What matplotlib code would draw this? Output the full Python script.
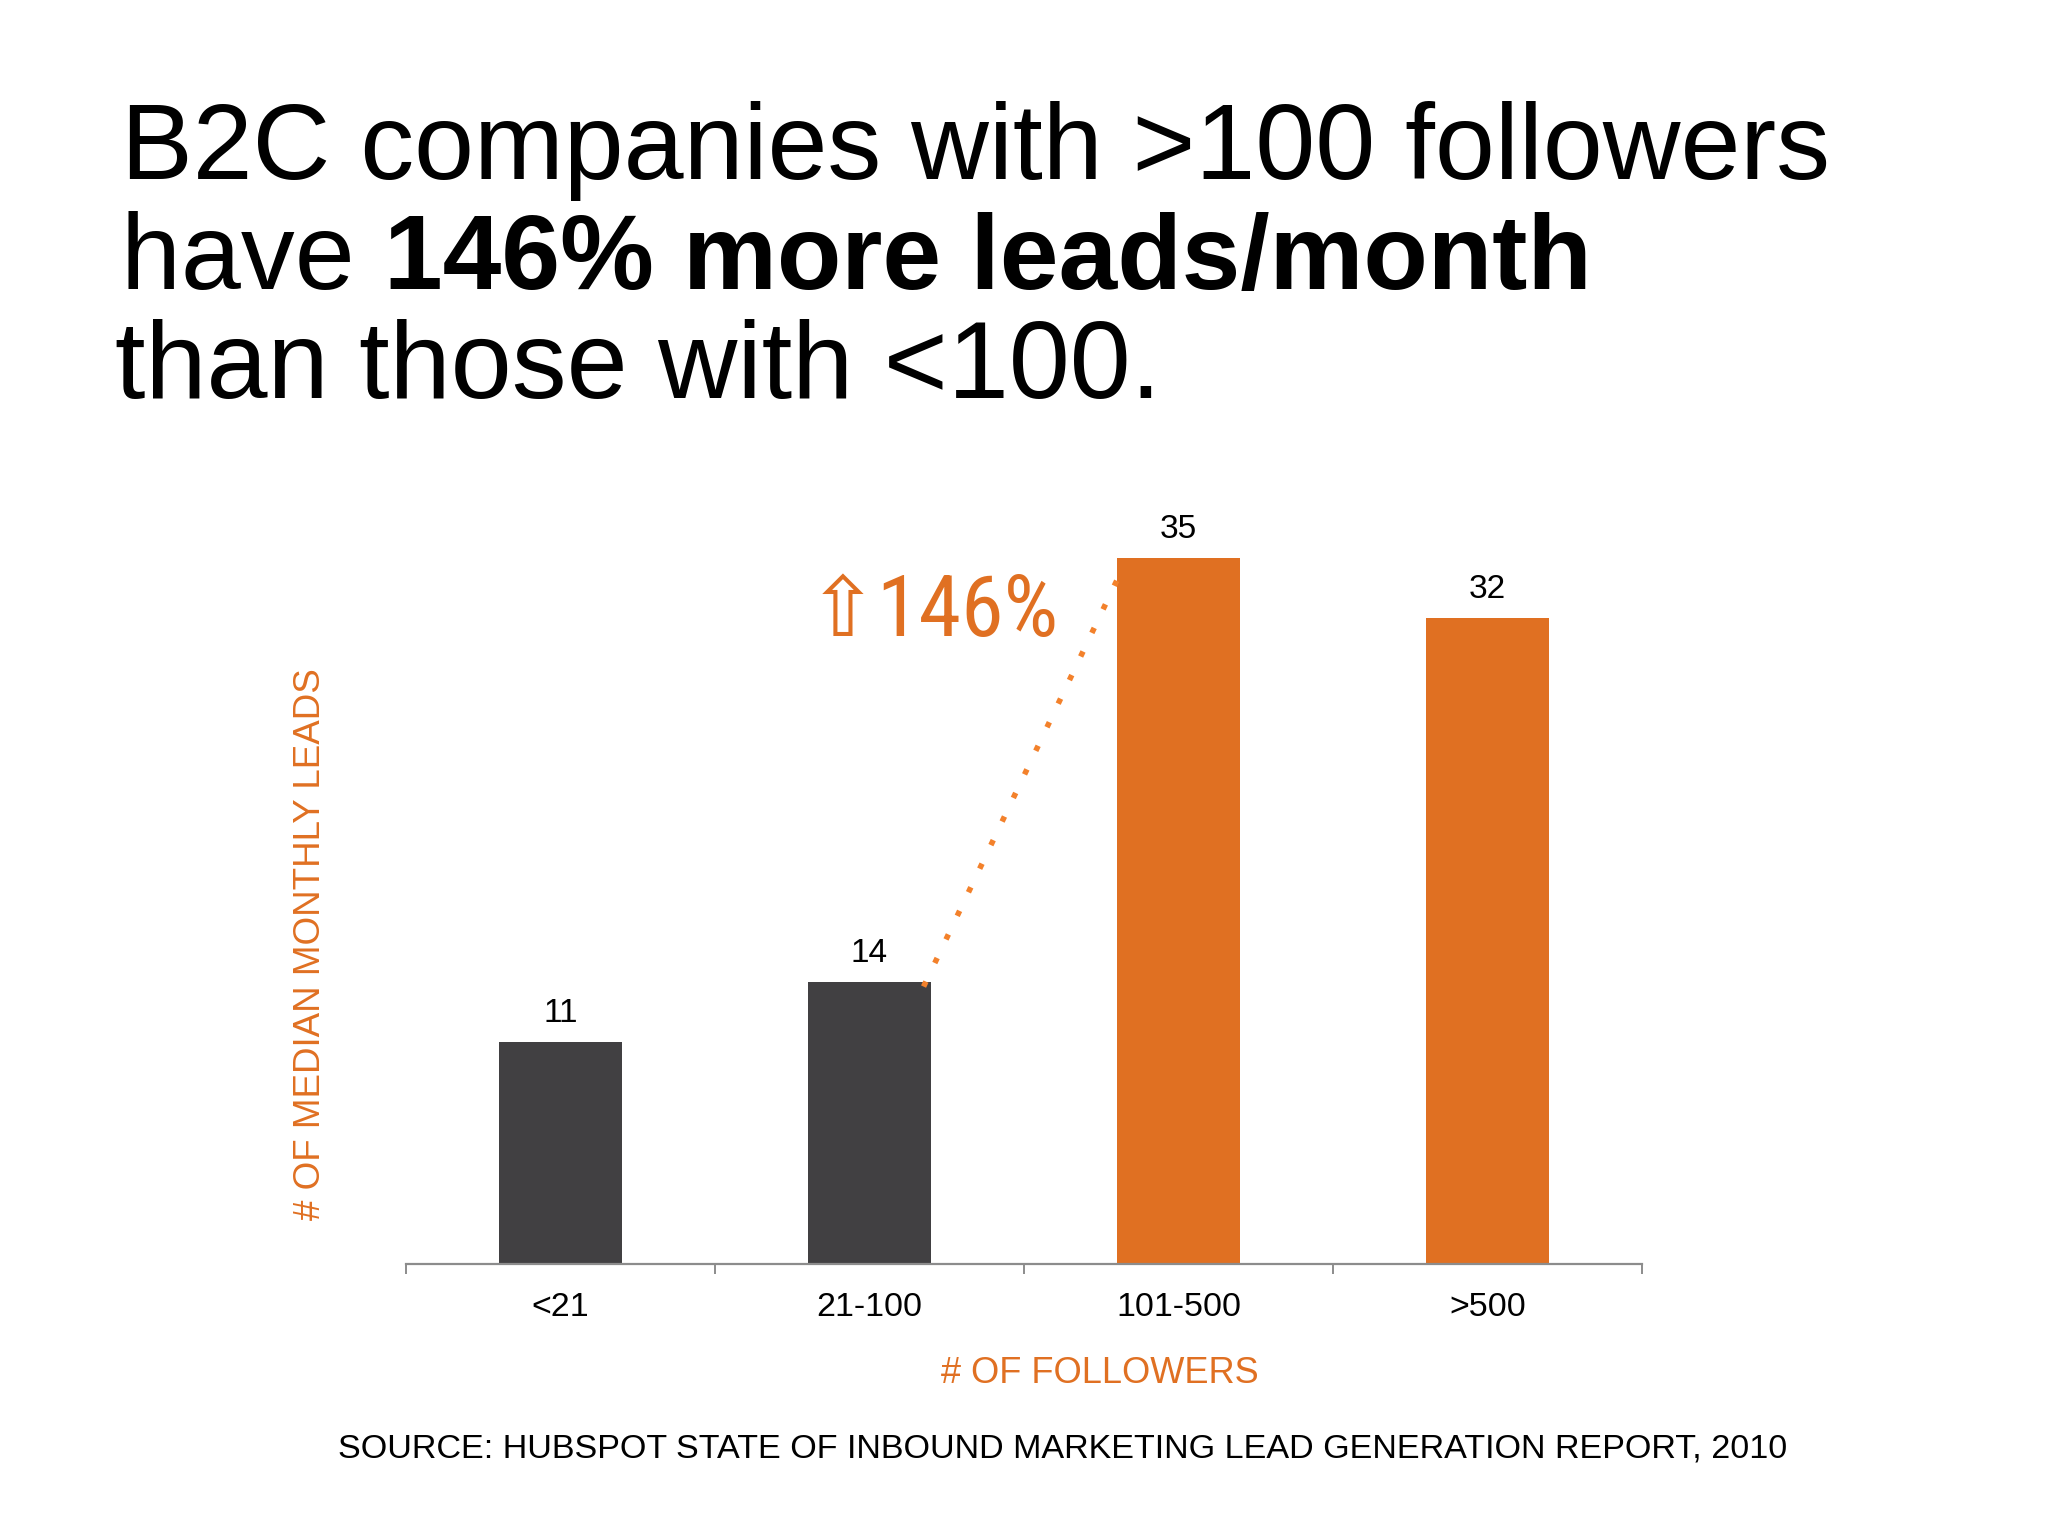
import matplotlib
matplotlib.use("Agg")
import matplotlib.pyplot as plt
from matplotlib import font_manager as fm
import numpy as np

# ---- data ----
categories = ["<21", "21-100", "101-500", ">500"]
leads = [11, 14, 35, 32]
highlight = [False, False, True, True]
title_line1 = "B2C companies with >100 followers"
title_line2_a = "have "
title_line2_b = "146% more leads/month"
title_line3 = "than those with <100."
callout = "146%"
x_label = "# OF FOLLOWERS"
y_label = "# OF MEDIAN MONTHLY LEADS"
source = "SOURCE: HUBSPOT STATE OF INBOUND MARKETING LEAD GENERATION REPORT, 2010"

ORANGE = "#E07022"
DOT_ORANGE = "#F3812B"
DARK = "#414042"
AXIS = "#8C8C8C"

names = {f.name for f in fm.fontManager.ttflist}
BASE = "Liberation Sans" if "Liberation Sans" in names else "DejaVu Sans"
NARROW = None
for cand in ["Liberation Sans Narrow", "Arial Narrow", "Roboto Condensed",
             "DejaVu Sans Condensed", "Open Sans Condensed", "Noto Sans Condensed"]:
    if cand in names:
        NARROW = cand
        break
plt.rcParams["font.family"] = [BASE, "DejaVu Sans"]

W, H = 2048, 1536
fig = plt.figure(figsize=(W / 100, H / 100), dpi=100)
fig.patch.set_facecolor("white")

def fx(px):
    return px / W

def fy(py):
    return 1 - py / H

# ---- axes ----
ax = fig.add_axes([fx(406), fy(1264), fx(1642) - fx(406), fy(457) - fy(1264)])
x = np.arange(len(categories))
bw = 0.4
colors = [ORANGE if h else DARK for h in highlight]
ax.bar(x, leads, width=bw, color=colors, zorder=2)
ax.set_xlim(-0.5, len(categories) - 0.5)
ax.set_ylim(0, 40)

for s in ["top", "right", "left"]:
    ax.spines[s].set_visible(False)
ax.spines["bottom"].set_color(AXIS)
ax.spines["bottom"].set_linewidth(1.6)
ax.set_yticks([])
ax.set_xticks(np.arange(len(categories) + 1) - 0.5)
ax.set_xticklabels([])
ax.tick_params(axis="x", which="major", length=7.2, width=1.4, color=AXIS, direction="out")
ax.set_xticks(x, minor=True)
ax.set_xticklabels(categories, minor=True, fontsize=24.5)
ax.tick_params(axis="x", which="minor", length=0, pad=20)

for xi, v in zip(x, leads):
    ax.annotate(str(v), (xi, v), xytext=(0, 14.4), textcoords="offset points",
                ha="center", va="baseline", fontsize=24, color="black")

# dotted connector from top-right of bar 2 to top-left of bar 3
x0, y0 = x[1] + bw / 2 - 0.025, leads[1] - 0.25
x1, y1 = x[2] - bw / 2 + 0.015, leads[2] - 0.65
ax.plot([x0, x1], [y0, y1], color=DOT_ORANGE, lw=4.0,
        linestyle=(0, (1, 3.7)), dash_capstyle="butt", zorder=3)

# ---- callout ----
fig.text(fx(808), fy(636), "\u21e7", fontsize=60, color=ORANGE,
         family=["DejaVu Sans"], ha="left", va="baseline")
if NARROW:
    fig.text(fx(876), fy(636), callout, fontsize=62, color=ORANGE,
             family=[NARROW, "DejaVu Sans"], ha="left", va="baseline")
else:
    fig.text(fx(876), fy(636), callout, fontsize=53, color=ORANGE,
             ha="left", va="baseline")

# ---- axis labels ----
fig.text(fx(1100), fy(1383), x_label, fontsize=26, color=ORANGE,
         ha="center", va="baseline")
fig.text(fx(310), fy(944), y_label, fontsize=26.5, color=ORANGE,
         ha="center", va="center", rotation=90)

# ---- title ----
fig.text(fx(121), fy(179), title_line1, fontsize=77.5, color="black", ha="left", va="baseline")
t2a = fig.text(fx(121), fy(289), title_line2_a, fontsize=77.5, color="black",
               ha="left", va="baseline")
ax.annotate(title_line2_b, xy=(1, 0), xycoords=t2a, fontsize=76, fontweight="bold",
            color="black", ha="left", va="bottom", annotation_clip=False)
fig.text(fx(115), fy(398), title_line3, fontsize=79, color="black", ha="left", va="baseline")

# ---- source ----
fig.text(fx(338), fy(1457), source, fontsize=24.6, color="black", ha="left", va="baseline")

fig.savefig("out.png", dpi=100, facecolor="white")
